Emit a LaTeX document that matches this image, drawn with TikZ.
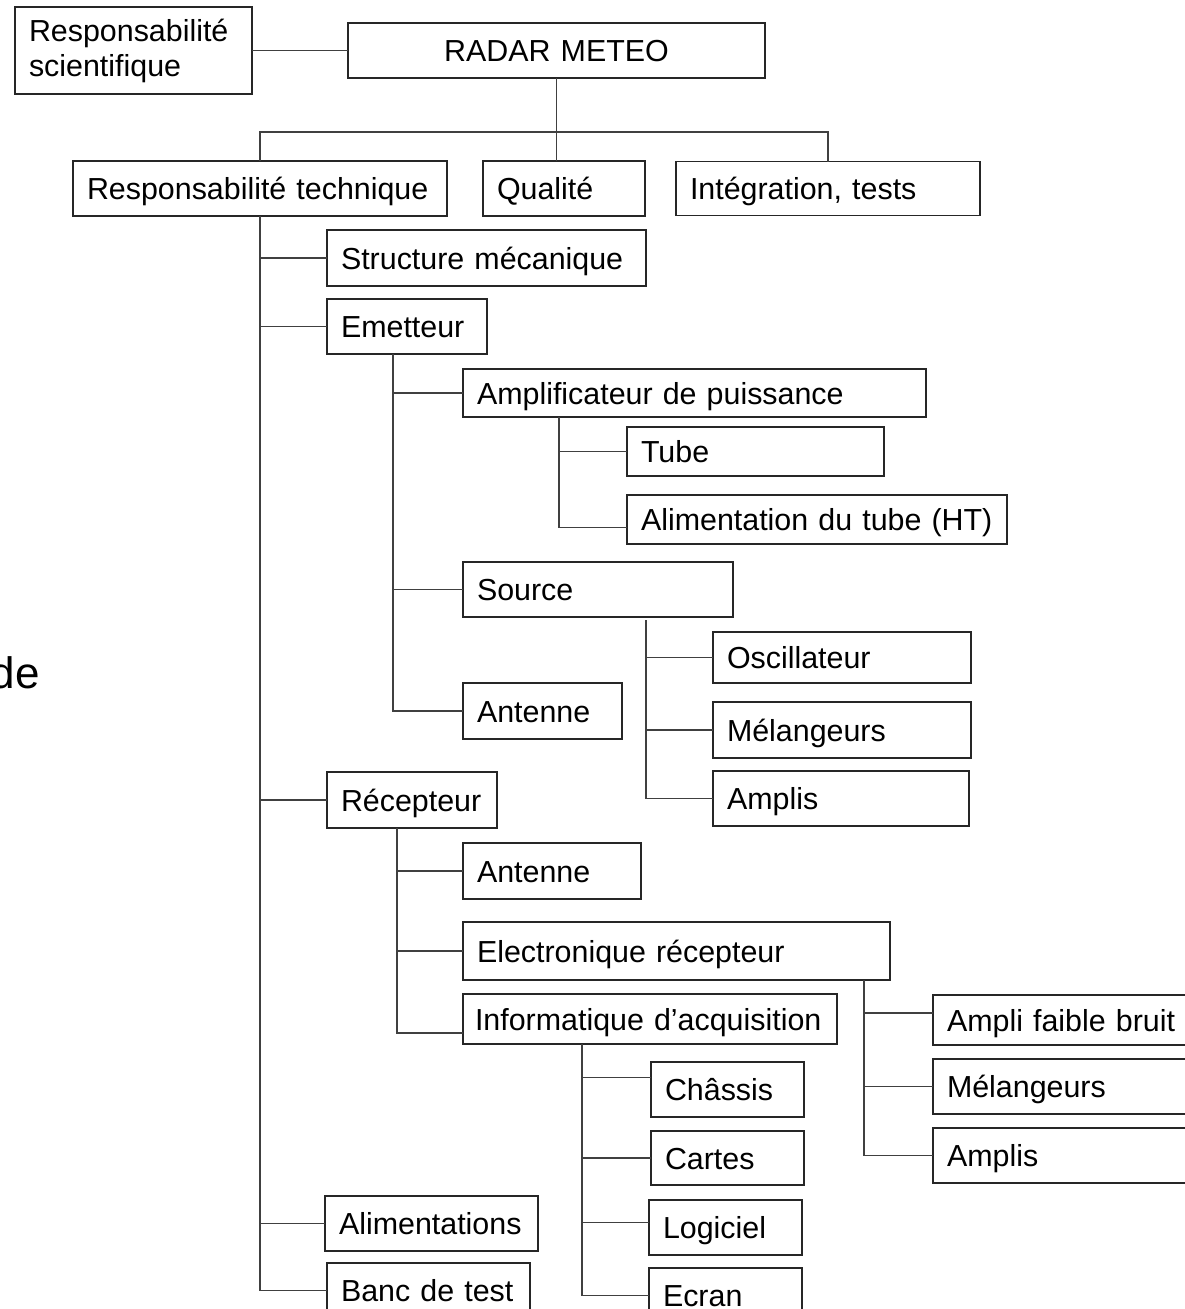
\documentclass[tikz,border=0pt]{standalone}
\usepackage{fontspec}
\setmainfont{Liberation Sans}
\usetikzlibrary{positioning}
\newcommand{\orgfont}{\fontsize{30.4}{35}\selectfont}

\begin{document}
\begin{tikzpicture}[
    plain/.style={rectangle, draw=black!85, line width=1.1pt, outer sep=0pt, anchor=north west, align=left, inner xsep=14pt, inner ysep=0pt, font=\orgfont},
    box/.style={plain, text height=22pt, text depth=0pt},
    link/.style={draw=black!75, line width=1.2pt}
  ]
    \useasboundingbox (0,0) rectangle (1185pt,-1309pt);

    % Nodes - top level
    \node [box, align=center, text width=389pt, minimum height=55pt] (radar) at (348pt,-23pt) {RADAR METEO};
    \node [plain, text width=209pt, minimum height=87pt, left=96pt of radar] (sci) {Responsabilité\\scientifique};
    \node [box, text width=346pt, minimum height=55pt, below right=67pt and 58pt of sci.south west] (tech) {Responsabilité technique};
    \node [box, text width=134pt, minimum height=55pt, right=36pt of tech] (qual) {Qualité};
    \node [box, text width=276pt, minimum height=54pt, right=31pt of qual] (integ) {Intégration, tests};

    % Nodes - technique
    \node [box, text width=291pt, minimum height=56pt, below right=14pt and 254pt of tech.south west] (struct) {Structure mécanique};
    \node [box, text width=132pt, minimum height=55pt, below right=13pt and 0pt of struct.south west] (emit) {Emetteur};
    \node [box, text width=142pt, minimum height=56pt, below right=418pt and 0pt of emit.south west] (recv) {Récepteur};
    \node [box, text width=185pt, minimum height=55pt, below right=368pt and -2pt of recv.south west] (alim) {Alimentations};
    \node [box, text width=175pt, minimum height=55pt, below right=12pt and 2pt of alim.south west] (banc) {Banc de test};

    % Nodes - emetteur
    \node [box, text width=435pt, minimum height=48pt, below right=15pt and 136pt of emit.south west] (amp) {Amplificateur de puissance};
    \node [box, text width=229pt, minimum height=49pt, below right=10pt and 164pt of amp.south west] (tube) {Tube};
    \node [box, text width=352pt, minimum height=49pt, below right=19pt and 0pt of tube.south west] (alimT) {Alimentation du tube (HT)};
    \node [box, text width=242pt, minimum height=55pt, below right=145pt and 0pt of amp.south west] (source) {Source};
    \node [box, text width=230pt, minimum height=51pt, below right=15pt and 250pt of source.south west] (osc) {Oscillateur};
    \node [box, text width=230pt, minimum height=56pt, below right=19pt and 0pt of osc.south west] (melS) {Mélangeurs};
    \node [box, text width=228pt, minimum height=55pt, below right=13pt and 0pt of melS.south west] (ampS) {Amplis};
    \node [box, text width=131pt, minimum height=56pt, below right=66pt and 0pt of source.south west] (antE) {Antenne};

    % Nodes - recepteur
    \node [box, text width=150pt, minimum height=56pt, below right=15pt and 136pt of recv.south west] (antR) {Antenne};
    \node [box, text width=399pt, minimum height=58pt, below right=23pt and 0pt of antR.south west] (elec) {Electronique récepteur};
    \node [box, inner xsep=12pt, text width=350pt, minimum height=50pt, below right=14pt and 0pt of elec.south west] (info) {Informatique d’acquisition};
    \node [box, text width=234pt, minimum height=50pt, below right=15pt and 43pt of elec.south east] (afb) {Ampli faible bruit};
    \node [box, text width=234pt, minimum height=55pt, below right=14pt and 0pt of afb.south west] (melR) {Mélangeurs};
    \node [box, text width=234pt, minimum height=55pt, below right=14pt and 0pt of melR.south west] (ampR) {Amplis};
    \node [box, text width=125pt, minimum height=55pt, below right=18pt and 188pt of info.south west] (chas) {Châssis};
    \node [box, text width=125pt, minimum height=54pt, below right=14pt and 0pt of chas.south west] (cartes) {Cartes};
    \node [box, text width=125pt, minimum height=55pt, below right=15pt and -2pt of cartes.south west] (logi) {Logiciel};
    \node [box, text width=125pt, minimum height=55pt, below right=13pt and 0pt of logi.south west] (ecran) {Ecran};

    % cut-off text at the left edge
    \node [font=\fontsize{44}{48}\selectfont, anchor=base east, inner sep=0pt] (frag) at (40pt,-688pt) {de};

    % Paths - top level
    \path [link] (sci) -- (radar);
    \path [link] (radar.south) -- (radar.south |- qual.north);
    \path [link] (tech.north) -- ++(0,29pt) -| (integ.north);

    % Paths - technique
    \path [link] (tech.south) |- (banc.west);
    \foreach \n in {struct,emit,recv,alim}
      \path [link] (tech.south |- \n.west) -- (\n.west);

    % Paths - emetteur
    \coordinate (emitbus) at ([xshift=66pt]emit.south west);
    \path [link] (emitbus) |- (antE.west);
    \foreach \n in {amp,source}
      \path [link] (emitbus |- \n.west) -- (\n.west);
    \coordinate (ampbus) at ([xshift=96pt]amp.south west);
    \path [link] (ampbus) |- ([yshift=-8pt]alimT.west);
    \path [link] (ampbus |- tube.west) -- (tube.west);
    \coordinate (srcbus) at ([xshift=183pt,yshift=-3pt]source.south west);
    \path [link] (srcbus) |- (ampS.west);
    \foreach \n in {osc,melS}
      \path [link] (srcbus |- \n.west) -- (\n.west);

    % Paths - recepteur
    \coordinate (recvbus) at ([xshift=70pt]recv.south west);
    \path [link] (recvbus) |- ([yshift=-14pt]info.west);
    \foreach \n in {antR,elec}
      \path [link] (recvbus |- \n.west) -- (\n.west);
    \coordinate (elecbus) at ([xshift=-26pt]elec.south east);
    \path [link] (elecbus) |- (ampR.west);
    \path [link] (elecbus |- afb.west) ++(0,7pt) -- ([yshift=7pt]afb.west);
    \path [link] (elecbus |- melR.west) -- (melR.west);
    \coordinate (infobus) at ([xshift=119pt]info.south west);
    \path [link] (infobus) |- (ecran.west);
    \path [link] ([yshift=12pt]infobus |- chas.west) -- ([yshift=12pt]chas.west);
    \path [link] (infobus |- cartes.west) -- (cartes.west);
    \path [link] ([yshift=5pt]infobus |- logi.west) -- ([yshift=5pt]logi.west);

\end{tikzpicture}
\end{document}
